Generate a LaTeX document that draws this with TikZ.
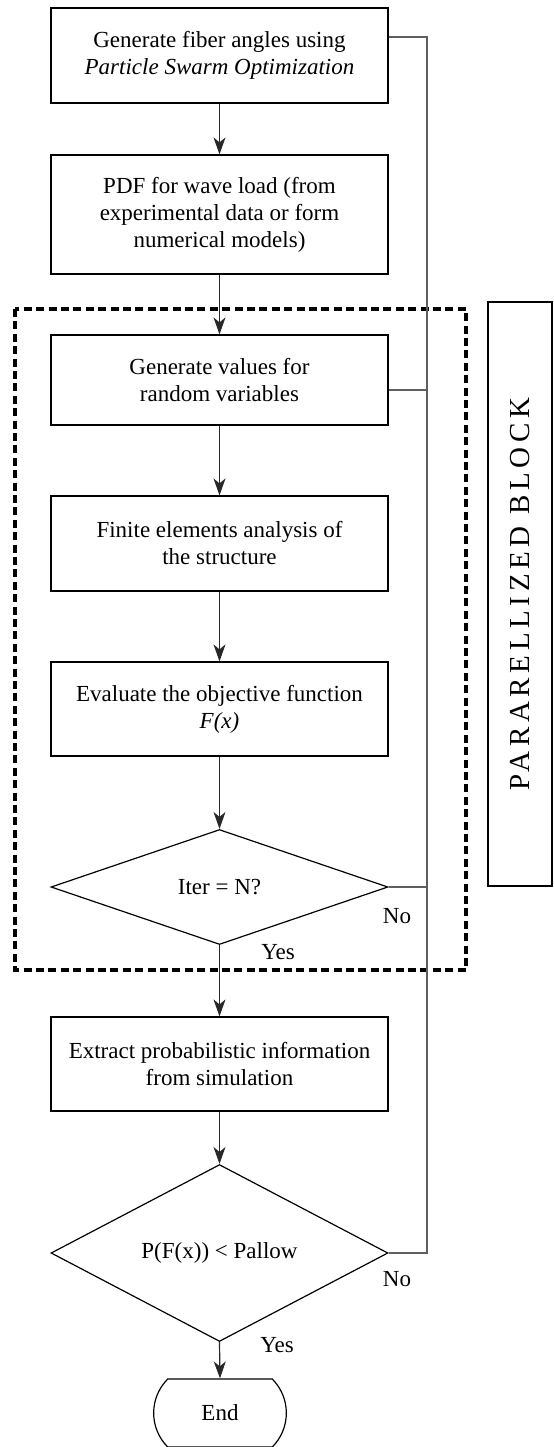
\documentclass[tikz,border=0pt]{standalone}
\usepackage{fontspec}
\setmainfont{Liberation Serif}
\usepackage{tikz}
\usetikzlibrary{shapes,shapes.geometric,shapes.misc,arrows.meta,calc}
\definecolor{railgray}{RGB}{95,95,95}
\definecolor{arrowgray}{RGB}{40,40,40}
\tikzstyle{tsText} = [
    text=black,
    font=\fontsize{11.5}{13.5}\selectfont
]
\tikzstyle{tsWraptext} = [
    tsText,
    text centered,
    align=center
]
\tikzstyle{tsRectangle} = [
    rectangle,
    tsWraptext,
    draw=black,
    line width=0.6pt,
    inner sep=0pt,
    minimum width=168.5pt]
\tikzstyle{tsDiamond} = [
    diamond,
    tsWraptext,
    draw=black,
    line width=0.6pt,
    inner sep=0pt,
    minimum width=168.5pt]
\tikzstyle{tsArrow} = [
    arrowgray,
    line width=0.6pt,
    -{Stealth[length=8.5pt,width=6pt,inset=2.5pt]}]
\tikzstyle{tsLine} = [
    railgray,
    line width=0.6pt]

\begin{document}
\begin{tikzpicture}[x=0.5pt, y=-0.5pt]
        \useasboundingbox (0,0) rectangle (553,1447);

        % Define nodes
        \node[  tsRectangle,
                minimum height=47.5pt] (gen) at (219.5,55.5)
                {Generate fiber angles using\\\textit{Particle Swarm Optimization}};

        \node[  tsRectangle,
                minimum height=59.5pt] (pdf) at (219.5,214.5)
                {PDF for wave load (from\\experimental data or form\\numerical models)};

        \node[  tsRectangle,
                minimum height=45pt] (rv) at (219.5,380)
                {Generate values for\\random variables};

        \node[  tsRectangle,
                minimum height=47.5pt] (fea) at (219.5,543.5)
                {Finite elements analysis of\\the structure};

        \node[  tsRectangle,
                minimum height=47pt] (obj) at (219.5,709)
                {Evaluate the objective function\\\textit{F(x)}};

        \node[  tsDiamond,
                minimum height=57.5pt] (iter) at (219.5,887) {Iter = N?};

        \node[  tsRectangle,
                minimum height=47pt] (ext) at (219.5,1064)
                {Extract probabilistic information\\from simulation};

        \node[  tsDiamond,
                minimum height=78pt] (prob) at (219.5,1253) {P(F(x)) < Pallow};

        \node[  rounded rectangle,
                rounded rectangle arc length=90,
                tsWraptext,
                draw=black,
                line width=0.6pt,
                minimum width=73pt,
                minimum height=34pt] (end) at (220,1413) {End};

        % Parallel block
        \draw[line width=1.7pt, dash pattern=on 4pt off 2.2pt] (15,309) rectangle (466,970);
        \node[  tsRectangle,
                rotate=90,
                minimum width=292pt,
                minimum height=32pt,
                font=\fontsize{14.5}{16}\selectfont\addfontfeatures{LetterSpace=16}] (pb) at (520,594)
                {PARARELLIZED BLOCK};

        % Labels
        \node[tsText] (no1) at (397,916) {No};
        \node[tsText] (yes1) at (278,952) {Yes};
        \node[tsText] (no2) at (397,1279) {No};
        \node[tsText] (yes2) at (277,1345) {Yes};

        % Flow
        \draw[tsArrow] (gen.south) -- (pdf.north);
        \draw[tsArrow] (pdf.south) -- (rv.north);
        \draw[tsArrow] (rv.south) -- (fea.north);
        \draw[tsArrow] (fea.south) -- (obj.north);
        \draw[tsArrow] (obj.south) -- (iter.north);
        \draw[tsArrow] (iter.south) -- (ext.north);
        \draw[tsArrow] (ext.south) -- (prob.north);
        \draw[tsArrow] (prob.south) -- (end.north);

        % Feedback rail
        \coordinate (rail) at (427,0);
        \coordinate (genout) at ([yshift=9.25pt]gen.east);
        \coordinate (rvout) at ([yshift=-5pt]rv.east);
        \draw[tsLine] (genout) -- (genout -| rail) -- (prob.east -| rail) -- (prob.east);
        \draw[tsLine] (rvout) -- (rvout -| rail);
        \draw[tsLine] (iter.east) -- (iter.east -| rail);

    \end{tikzpicture}
\end{document}
